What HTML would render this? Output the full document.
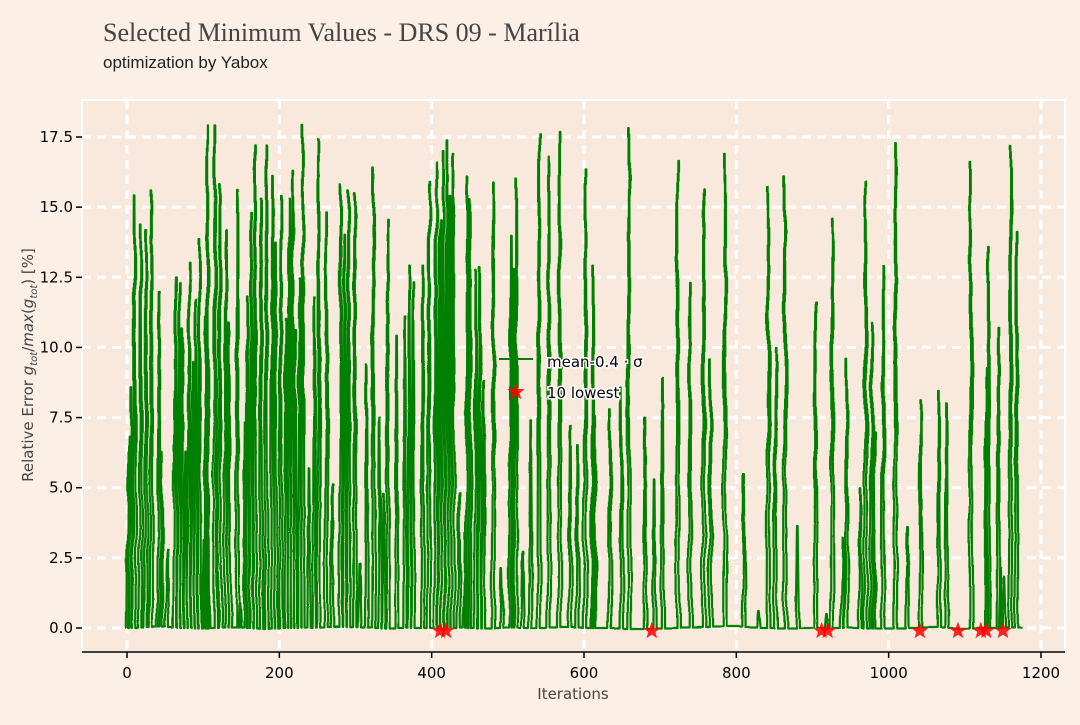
<!DOCTYPE html>
<html><head><meta charset="utf-8">
<style>
html,body{margin:0;padding:0;background:#fcf0e6;}
body{width:1080px;height:720px;overflow:hidden;font-family:"Liberation Sans",sans-serif;}
svg text{font-family:"DejaVu Sans","Liberation Sans",sans-serif;}
</style></head>
<body>
<svg id="chart" width="1080" height="720" xmlns="http://www.w3.org/2000/svg">
  <defs>
    <filter id="wob" x="-5%" y="-5%" width="110%" height="110%">
      <feTurbulence type="fractalNoise" baseFrequency="0.02" numOctaves="2" seed="3" result="n"/>
      <feDisplacementMap in="SourceGraphic" in2="n" scale="5" xChannelSelector="R" yChannelSelector="G"/>
    </filter>
  </defs>
  <rect x="0" y="0" width="1080" height="720" fill="#fcf0e6"/>
  <text x="103" y="41" font-size="26" fill="#444" style="font-family:'Liberation Serif',serif">Selected Minimum Values - DRS 09 - Marília</text>
  <text x="103" y="68" font-size="17" fill="#222" style="font-family:'Liberation Sans',sans-serif">optimization by Yabox</text>
  <rect x="82" y="100" width="983" height="552" fill="#f9e8dc" stroke="#fff" stroke-width="2"/>
  <g id="grid"></g>
  <g id="series" filter="url(#wob)"></g>
  <g id="stars"></g>
  <line x1="82" y1="652" x2="1065" y2="652" stroke="#000" stroke-width="1.5"/>
  <g id="xticks"></g>
  <g id="yticks"></g>
  <text x="573" y="699" font-size="15" text-anchor="middle" fill="#444">Iterations</text>
  <text transform="translate(33,365) rotate(-90)" font-size="15" text-anchor="middle" fill="#444">Relative Error <tspan font-style="italic">g</tspan><tspan font-size="10" dy="4" font-style="italic">tot</tspan><tspan dy="-4">/</tspan><tspan font-style="italic">max</tspan>(<tspan font-style="italic">g</tspan><tspan font-size="10" dy="4" font-style="italic">tot</tspan><tspan dy="-4">) [%]</tspan></text>
  <g>
    <line x1="499" y1="359" x2="533" y2="359" stroke="#008000" stroke-width="2"/>
    <text x="547" y="367" font-size="15" fill="#000" stroke="#fff" stroke-width="3" paint-order="stroke">mean-0.4 · σ</text>
    <polygon id="legstar" fill="#f00" opacity="0.85"/>
    <text x="547" y="398" font-size="15" fill="#000" stroke="#fff" stroke-width="3" paint-order="stroke">10 lowest</text>
  </g>
</svg>
<script>
// data
const peakIters = [2,5,10,18,25,32,42,45,53,63,68,72,77,81,86,90,95,101,104,106,116,122,130,134,145,147,155,158,163,168,176,183,191,195,202,209,213,217,221,227,231,239,246,252,262,270,281,286,291,299,305,314,323,331,336,342,354,365,371,376,389,397,406,411,415,420,424,428,436,444,447,450,458,463,468,481,492,504,507,511,520,530,541,554,568,582,592,602,612,614,634,649,659,680,692,703,723,739,757,766,785,810,829,842,851,864,880,904,919,926,940,945,963,970,978,981,993,1009,1024,1042,1066,1076,1108,1128,1131,1144,1147,1152,1160,1168];
const peakVals  = [6.8,8.6,15.4,14.4,14.2,15.6,12.0,6.3,2.8,12.5,12.3,10.7,6.3,13.0,9.5,11.7,13.9,3.1,11.1,17.9,17.9,15.8,14.2,10.9,15.6,0.9,7.3,11.8,14.8,17.2,15.3,17.2,16.1,13.7,15.4,11.0,15.3,16.3,10.6,12.5,17.9,5.7,11.8,17.4,14.8,5.1,15.8,14.0,15.6,15.5,2.3,9.4,16.4,7.5,4.8,14.5,10.4,11.1,12.9,12.3,12.9,15.9,16.6,14.5,17.0,17.4,15.4,16.9,4.8,3.4,16.1,15.3,12.8,12.9,8.8,15.9,2.1,14.0,12.8,16.0,2.7,7.4,17.6,16.8,17.7,7.2,6.5,16.4,12.9,7.5,7.8,8.6,17.8,7.5,5.3,8.9,16.6,12.3,15.6,9.6,16.9,5.5,0.6,15.7,10.0,16.1,3.6,11.6,0.5,14.6,3.2,9.6,5.0,15.9,10.9,7.0,12.9,17.3,3.6,8.1,8.4,8.0,16.6,9.3,13.6,10.7,2.1,1.8,17.2,14.1];
const lowestIters = [411,419,689,912,920,1041,1091,1121,1128,1150];
const lowestVals = [-0.1,-0.1,-0.1,-0.1,-0.1,-0.1,-0.1,-0.1,-0.1,-0.1];
const xTickVals = [0,200,400,600,800,1000,1200];
const yTickVals = [0,2.5,5,7.5,10,12.5,15,17.5];
const yTickLabels = ["0.0","2.5","5.0","7.5","10.0","12.5","15.0","17.5"];

const NS="http://www.w3.org/2000/svg";
const X = v => 127 + v*914/1200;
const Y = v => 628 - v*491/17.5;
function mk(tag, attrs, parent){const e=document.createElementNS(NS,tag);for(const k in attrs)e.setAttribute(k,attrs[k]);parent.appendChild(e);return e;}

const grid=document.getElementById('grid');
xTickVals.forEach(v=>{const l=mk('line',{x1:X(v),y1:100,x2:X(v),y2:652,stroke:'#fff','stroke-width':3,'stroke-dasharray':'9 6'},grid);

});
yTickVals.forEach(v=>{const l=mk('line',{x1:82,y1:Y(v),x2:1065,y2:Y(v),stroke:'#fff','stroke-width':3,'stroke-dasharray':'9 6'},grid);

});

const xt=document.getElementById('xticks');
xTickVals.forEach(v=>{mk('line',{x1:X(v),y1:652,x2:X(v),y2:658,stroke:'#000','stroke-width':1.5},xt);
const t=mk('text',{x:X(v),y:678,'font-size':15,'text-anchor':'middle',fill:'#000'},xt);t.textContent=v;

});
const yt=document.getElementById('yticks');
yTickVals.forEach((v,i)=>{mk('line',{x1:76,y1:Y(v),x2:82,y2:Y(v),stroke:'#000','stroke-width':1.5},yt);
const t=mk('text',{x:73,y:Y(v)+5,'font-size':15,'text-anchor':'end',fill:'#000'},yt);t.textContent=yTickLabels[i];

});

// series: spikes from 0 to peak
let pts=[[0,0]];
peakIters.forEach((it,i)=>{pts.push([it-2.2,0]);pts.push([it-0.4,peakVals[i]]);pts.push([it+0.4,peakVals[i]]);pts.push([it+2.2,0]);});
pts.push([1176,0]);
const d=pts.map((p,i)=>(i?'L':'M')+X(p[0]).toFixed(1)+','+Y(p[1]).toFixed(1)).join(' ');
const path=mk('path',{d:d,fill:'none',stroke:'#008000','stroke-width':2.2,'stroke-linejoin':'round'},document.getElementById('series'));



function starPts(cx,cy,r){let s=[];for(let k=0;k<10;k++){const a=-Math.PI/2+k*Math.PI/5;const rr=k%2?r*0.42:r;s.push((cx+rr*Math.cos(a)).toFixed(1)+','+(cy+rr*Math.sin(a)).toFixed(1));}return s.join(' ');}
const sg=document.getElementById('stars');
lowestIters.forEach((it,i)=>{const p=mk('polygon',{points:starPts(X(it),Y(lowestVals[i]),9),fill:'#f00',opacity:0.85},sg);

});
document.getElementById('legstar').setAttribute('points',starPts(516,392,9));
</script>
</body></html>
